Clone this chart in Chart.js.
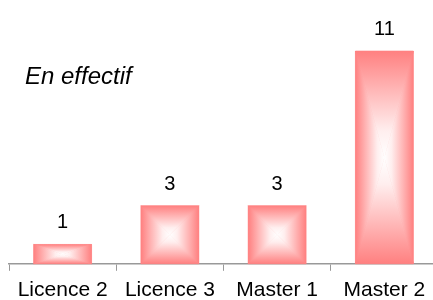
<!DOCTYPE html>
<html>
<head>
<meta charset="utf-8">
<script src="https://cdn.jsdelivr.net/npm/chart.js@4"></script>
<style>
  html, body { margin: 0; padding: 0; background: #fff; overflow: hidden; }
  #wrap { width: 446px; height: 310px; position: relative; }
</style>
</head>
<body>
<div id="wrap"><canvas id="chart"></canvas></div>
<script>
// categories and values
var levels = ['Licence 2', 'Licence 3', 'Master 1', 'Master 2'];
var counts = [1, 3, 3, 11];
var note = 'En effectif';

var edgeColor = 'rgb(255,128,128)';
var FONT = '"Liberation Sans", Arial, sans-serif';

// rectangular gradient: each bar is split into 4 triangles, edge -> center
var rectGradient = {
    id: 'rectGradient',
    afterDatasetsDraw: function(chart) {
        var ctx = chart.ctx;
        var meta = chart.getDatasetMeta(0);
        meta.data.forEach(function(bar) {
            var half = bar.width / 2;
            var l = bar.x - half, r = bar.x + half;
            var t = Math.min(bar.y, bar.base), b = Math.max(bar.y, bar.base);
            var cx = (l + r) / 2, cy = (t + b) / 2;
            var parts = [
                { pts: [[l, t], [r, t], [cx, cy]], g: [cx, t, cx, cy] },
                { pts: [[l, b], [r, b], [cx, cy]], g: [cx, b, cx, cy] },
                { pts: [[l, t], [l, b], [cx, cy]], g: [l, cy, cx, cy] },
                { pts: [[r, t], [r, b], [cx, cy]], g: [r, cy, cx, cy] }
            ];
            ctx.save();
            parts.forEach(function(p) {
                var grad = ctx.createLinearGradient(p.g[0], p.g[1], p.g[2], p.g[3]);
                grad.addColorStop(0, edgeColor);
                grad.addColorStop(0.35, 'rgb(255,180,180)');
                grad.addColorStop(0.75, 'rgb(255,238,238)');
                grad.addColorStop(1, '#ffffff');
                ctx.beginPath();
                ctx.moveTo(p.pts[0][0], p.pts[0][1]);
                ctx.lineTo(p.pts[1][0], p.pts[1][1]);
                ctx.lineTo(p.pts[2][0], p.pts[2][1]);
                ctx.closePath();
                ctx.fillStyle = grad;
                ctx.fill();
                ctx.strokeStyle = grad;
                ctx.lineWidth = 0.6;
                ctx.stroke();
            });
            ctx.restore();
        });

        // value labels above bars
        ctx.save();
        ctx.fillStyle = '#000';
        ctx.font = '20px ' + FONT;
        ctx.textAlign = 'center';
        ctx.textBaseline = 'alphabetic';
        meta.data.forEach(function(bar, i) {
            ctx.fillText(String(counts[i]), bar.x, bar.y - 16);
        });
        // note
        ctx.font = 'italic 24px ' + FONT;
        ctx.textAlign = 'left';
        ctx.fillText(note, 25, 84);
        ctx.restore();
    }
};

new Chart(document.getElementById('chart'), {
    type: 'bar',
    data: {
        labels: levels,
        datasets: [{
            data: counts,
            backgroundColor: edgeColor,
            borderWidth: 0,
            categoryPercentage: 1,
            barPercentage: 0.54
        }]
    },
    options: {
        responsive: true,
        maintainAspectRatio: false,
        animation: false,
        layout: { padding: { top: 51, left: 9, right: 8, bottom: 0 } },
        plugins: { legend: { display: false }, tooltip: { enabled: false } },
        scales: {
            x: {
                grid: { display: true, drawOnChartArea: false, tickLength: 7, color: '#999', offset: true },
                border: { display: true, color: '#999', width: 1.5 },
                ticks: { color: '#000', font: { family: FONT, size: 21 }, padding: 7, maxRotation: 0 }
            },
            y: { display: false, min: 0, max: 11 }
        }
    },
    plugins: [rectGradient]
});
</script>
</body>
</html>
